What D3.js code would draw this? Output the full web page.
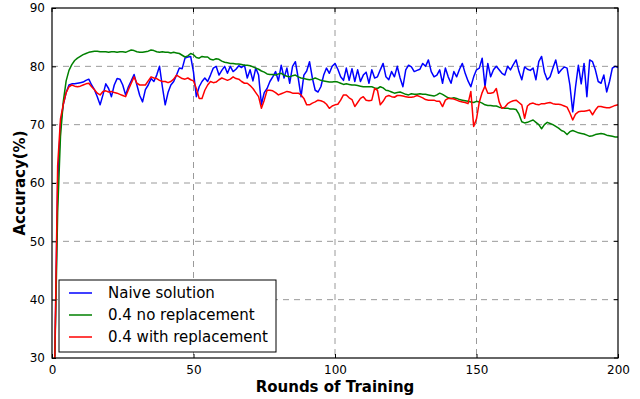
<!DOCTYPE html>
<html>
<head>
<meta charset="utf-8">
<script src="https://cdn.jsdelivr.net/npm/d3@7"></script>
<style>
  html, body { margin: 0; padding: 0; background: #fff; }
  svg { display: block; font-family: "DejaVu Sans", sans-serif; }
</style>
</head>
<body>
<svg id="chart" width="640" height="399"></svg>
<script>
// Accuracy per training round (rounds 1..200)
const naive = [
  30.3, 60, 70, 73.5, 75.5, 76.8, 77, 77, 77.1, 77.2,
  77.3, 77.6, 77.8, 76.8, 76, 74.8, 73.4, 75.1, 77, 76.2,
  74.8, 76.8, 77.9, 77.8, 76.8, 75.1, 76.5, 77.5, 78.6, 76.8,
  75, 73.9, 76, 76.8, 77.9, 77.4, 78.5, 80, 76.5, 73.4,
  75.5, 76.8, 77.4, 78.5, 79.7, 79.6, 81.4, 81.6, 81.7, 79,
  74.8, 76.5, 77.4, 78, 77.4, 78.5, 79.7, 80, 78.5, 79.3,
  80, 78.8, 80, 79.1, 79.5, 80.1, 79.8, 80.2, 78, 79.4,
  77.5, 79.7, 78.5, 73.5, 75.5, 76.2, 77.4, 78.2, 79.1, 77.5,
  80.2, 78, 79.7, 77.1, 80, 80.8, 78, 74.8, 78.5, 79.2,
  80.8, 78, 75.9, 75.6, 76.5, 78.5, 79.7, 78.8, 80, 80.5,
  79.5, 78.2, 77.6, 79.7, 77.6, 79.6, 77.4, 79.4, 77.4, 78.5,
  79, 77.1, 79.4, 78, 78.2, 79.4, 80.5, 78.2, 77.7, 79.1,
  78.2, 80, 78, 76.5, 79.4, 80.2, 79.9, 79.1, 79.3, 79.5,
  80.5, 80, 81.1, 79.1, 78.2, 78.5, 79.4, 77.1, 79.7, 78.2,
  77.1, 79.1, 78.2, 79.5, 80.5, 78.8, 77.5, 76.5, 78.2, 79.4,
  79.7, 81.4, 76.5, 80.5, 78.2, 79.4, 80, 79.4, 78.8, 78.5,
  80, 79.4, 80.3, 81.1, 79.1, 77.7, 79.9, 79.5, 79.3, 79.7,
  77.7, 80.8, 81.7, 79, 77.7, 78.2, 79.7, 81.1, 78.8, 79.4,
  79.9, 79.7, 76.8, 72.2, 76.5, 80.2, 77, 80.5, 74.8, 81.1,
  80.8, 79.4, 77.4, 77.1, 78.5, 75.6, 77.4, 79.7, 80, 79.8
];
const noReplacement = [
  30, 55, 68, 74, 77.5, 79.3, 80.3, 81, 81.4, 81.7,
  82, 82.2, 82.4, 82.5, 82.6, 82.6, 82.5, 82.5, 82.5, 82.4,
  82.5, 82.5, 82.4, 82.5, 82.5, 82.4, 82.6, 82.8, 82.7, 82.5,
  82.4, 82.4, 82.5, 82.6, 82.8, 82.7, 82.5, 82.4, 82.5, 82.4,
  82.4, 82.3, 82.4, 82.3, 82.2, 81.9, 81.6, 81.8, 82.2, 82,
  81.5, 81.4, 81.7, 81.6, 81.6, 81.2, 81.1, 81.3, 81.2, 80.9,
  80.7, 80.6, 80.5, 80.5, 80.4, 80.4, 80.3, 80.2, 80.2, 80.1,
  79.9, 79.7, 79.5, 79.2, 79, 78.7, 78.6, 78.6, 78.5, 78.7,
  78.8, 78.5, 78.3, 78.2, 78.4, 78.5, 78.2, 78, 77.9, 77.8,
  77.7, 77.8, 78, 77.8, 77.6, 77.5, 77.4, 77.3, 77.3, 77.4,
  77.3, 77.1, 76.9, 77, 76.9, 76.8, 76.8, 76.7, 76.6, 76.5,
  76.5, 76.5, 76.5, 76.3, 76.2, 76.5, 76.3, 75.9, 75.8, 75.6,
  75.4, 75.5, 75.6, 75.4, 75.2, 75.1, 75.3, 75.2, 75.2, 75.3,
  75.2, 75.2, 75.1, 75, 74.9, 75.1, 75.4, 75.2, 74.9, 74.6,
  74.5, 74.6, 74.5, 74.3, 74.2, 74.1, 74, 73.9, 73.8, 74,
  73.9, 73.7, 73.4, 73.3, 73.3, 73.2, 73.2, 73, 72.9, 72.8,
  72.8, 72.7, 72.7, 72.6, 71.8, 70.5, 70.3, 70.4, 70.6, 70.8,
  70.4, 70, 69.3, 70, 70.4, 70.2, 70, 69.7, 69.4, 69,
  68.8, 68.3, 68.8, 69, 68.8, 68.6, 68.5, 68.4, 68.2, 68,
  68.1, 68.3, 68.4, 68.5, 68.4, 68.2, 68.1, 68, 67.9, 67.9
];
const withReplacement = [
  30, 63, 71, 73.5, 75.5, 76.5, 76.8, 76.6, 76.5, 76.6,
  76.8, 77, 77.1, 76.5, 76, 75.4, 75.1, 75.7, 75.8, 75.6,
  75.7, 75.5, 75.4, 75.2, 75, 74.8, 76, 77.1, 78.2, 77.1,
  76.8, 76.8, 76.8, 77.5, 78.2, 78, 77.9, 77.6, 77.4, 77.4,
  77.2, 77.4, 77.8, 78.5, 78.2, 77.9, 77.8, 78, 77.7, 77.5,
  76.2, 74.5, 74.5, 75.9, 76.8, 77.4, 77.2, 77.3, 77.7, 78,
  77.8, 77.6, 77.8, 78.2, 77.9, 77.8, 77.4, 77.1, 77.1, 76.7,
  76.2, 75.5, 74.8, 72.8, 74.2, 75.9, 75.9, 75.8, 75.5, 75.1,
  75.3, 75.5, 75.7, 75.6, 75.4, 75.4, 75.4, 75.1, 74.5, 73.4,
  73.4, 73.7, 73.9, 74.2, 74.1, 73.9, 73.5, 72.8, 73.2, 73.4,
  73.5, 74.2, 75.1, 75.1, 74.6, 74.3, 73.1, 73.8, 74.5, 74.8,
  74.2, 74.1, 74.2, 76.2, 75.9, 73.4, 74, 74.8, 75, 74.8,
  74.7, 75, 75, 74.9, 74.8, 74.7, 74.7, 74.8, 75, 74.8,
  74.6, 74.3, 74.2, 74.2, 74.2, 74, 74, 73.1, 74.2, 74.5,
  74.5, 74.4, 74.2, 74, 73.9, 73.8, 73.6, 75.7, 69.7, 71,
  73.9, 75.5, 76.6, 75.4, 75.4, 75.5, 76.2, 73.9, 72.8, 73,
  73.6, 73.9, 74.1, 74.2, 73.8, 73.4, 71.1, 73.2, 73.6, 73.7,
  73.5, 73.4, 73.6, 73.6, 73.7, 73.8, 73.6, 73.5, 73.5, 73.4,
  73.2, 73, 72, 70.8, 71.8, 72.2, 72.3, 72.3, 72.4, 72.5,
  71.7, 72.5, 73.1, 73.1, 73, 72.9, 72.9, 73.1, 73.3, 73.4
];

const seriesNames = ["Naive solution", "0.4 no replacement", "0.4 with replacement"];
const seriesColors = ["#0000ff", "#008000", "#ff0000"];
const xTicks = [0, 50, 100, 150, 200];
const yTicks = [30, 40, 50, 60, 70, 80, 90];

const series = [naive, noReplacement, withReplacement].map((vals, i) => ({
  name: seriesNames[i],
  color: seriesColors[i],
  points: vals.map((v, j) => ({ round: j + 1, acc: v }))
}));

const margin = { left: 52, right: 22, top: 8, bottom: 41 };
const W = 640, H = 399;
const innerW = W - margin.left - margin.right;
const innerH = H - margin.top - margin.bottom;

const svg = d3.select("#chart");
const g = svg.append("g").attr("transform", `translate(${margin.left},${margin.top})`);

const x = d3.scaleLinear().domain([0, 200]).range([0, innerW]);
const y = d3.scaleLinear().domain([30, 90]).range([innerH, 0]);

// dashed grid
g.append("g").selectAll("line.gx")
  .data(xTicks.filter(t => t > 0 && t < 200))
  .join("line")
  .attr("x1", d => x(d)).attr("x2", d => x(d))
  .attr("y1", 0).attr("y2", innerH)
  .attr("stroke", "#9a9a9a").attr("stroke-width", 1)
  .attr("stroke-dasharray", "6,5");
g.append("g").selectAll("line.gy")
  .data(yTicks.filter(t => t > 30 && t < 90))
  .join("line")
  .attr("x1", 0).attr("x2", innerW)
  .attr("y1", d => y(d)).attr("y2", d => y(d))
  .attr("stroke", "#9a9a9a").attr("stroke-width", 1)
  .attr("stroke-dasharray", "6,5");

// series lines
const line = d3.line().x(d => x(d.round)).y(d => y(d.acc));
g.append("g").selectAll("path")
  .data(series)
  .join("path")
  .attr("d", d => line(d.points))
  .attr("fill", "none")
  .attr("stroke", d => d.color)
  .attr("stroke-width", 1.5)
  .attr("stroke-linejoin", "round");

// axes with inward ticks
const xAxis = g.append("g").attr("transform", `translate(0,${innerH})`)
  .call(d3.axisBottom(x).tickValues(xTicks).tickSizeInner(-4).tickSizeOuter(0).tickPadding(7));
const yAxis = g.append("g")
  .call(d3.axisLeft(y).tickValues(yTicks).tickSizeInner(-4).tickSizeOuter(0).tickPadding(7));
[xAxis, yAxis].forEach(a => {
  a.select(".domain").remove();
  a.selectAll("text").attr("font-size", 12).attr("fill", "#000")
    .attr("font-family", "DejaVu Sans, sans-serif");
  a.selectAll("line").attr("stroke", "#000");
});
// top / right tick marks
g.append("g").selectAll("line")
  .data(xTicks).join("line")
  .attr("x1", d => x(d)).attr("x2", d => x(d)).attr("y1", 0).attr("y2", 4)
  .attr("stroke", "#000");
g.append("g").selectAll("line")
  .data(yTicks).join("line")
  .attr("x1", innerW).attr("x2", innerW - 4).attr("y1", d => y(d)).attr("y2", d => y(d))
  .attr("stroke", "#000");

// frame
g.append("rect")
  .attr("x", 0).attr("y", 0).attr("width", innerW).attr("height", innerH)
  .attr("fill", "none").attr("stroke", "#000").attr("stroke-width", 1.2);

// axis titles
svg.append("text")
  .attr("x", margin.left + innerW / 2).attr("y", 392)
  .attr("text-anchor", "middle")
  .attr("font-size", 15).attr("font-weight", "bold")
  .text("Rounds of Training");
svg.append("text")
  .attr("transform", `translate(25,${margin.top + innerH / 2}) rotate(-90)`)
  .attr("text-anchor", "middle")
  .attr("font-size", 15).attr("font-weight", "bold")
  .text("Accuracy(%)");

// legend
const legend = svg.append("g").attr("transform", "translate(59,280)");
legend.append("rect")
  .attr("width", 217).attr("height", 72)
  .attr("fill", "#fff").attr("stroke", "#000").attr("stroke-width", 1);
const items = legend.selectAll("g.item").data(series).join("g")
  .attr("transform", (d, i) => `translate(0,${13 + i * 22})`);
items.append("line")
  .attr("x1", 10).attr("x2", 33).attr("y1", 0).attr("y2", 0)
  .attr("stroke", d => d.color).attr("stroke-width", 1.5);
items.append("text")
  .attr("x", 49).attr("y", 0).attr("dy", "0.35em")
  .attr("font-size", 15)
  .text(d => d.name);
</script>
</body>
</html>
